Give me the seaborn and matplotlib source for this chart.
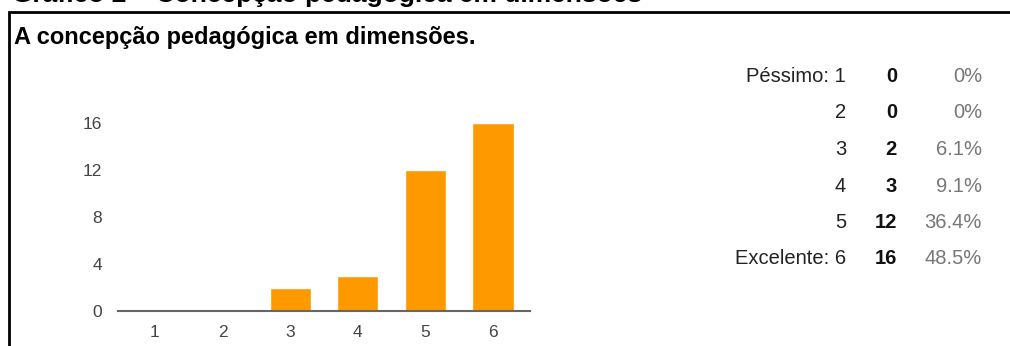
import matplotlib
matplotlib.use("Agg")
import matplotlib.pyplot as plt
import seaborn as sns
import pandas as pd
from matplotlib.patches import Rectangle

# ---- data ----
categories = ["1", "2", "3", "4", "5", "6"]
counts = [0, 0, 2, 3, 12, 16]
row_labels = ["Péssimo: 1", "2", "3", "4", "5", "Excelente: 6"]
percents = ["0%", "0%", "6.1%", "9.1%", "36.4%", "48.5%"]
yticks = [0, 4, 8, 12, 16]
title = "A concepção pedagógica em dimensões."
caption = "Gráfico 2 – Concepção pedagógica em dimensões"

sns.set_theme(style="white")
plt.rcParams["font.family"] = ["Liberation Sans", "DejaVu Sans"]

W, H = 1010, 346
fig = plt.figure(figsize=(W / 100, H / 100), dpi=100)
fig.patch.set_facecolor("white")

def fx(x):
    return x / W

def fy(y):
    return 1 - y / H

# frame box (extends beyond right and bottom edges)
fig.patches.append(Rectangle((fx(9), fy(400)), fx(1100), (400 - 12) / H,
                             transform=fig.transFigure, fill=False,
                             edgecolor="black", linewidth=2, zorder=5))

# cropped caption at top
fig.text(fx(12), fy(2), caption, fontsize=19, fontweight="bold",
         ha="left", va="baseline", color="black")

# title
fig.text(fx(14), fy(44), title, fontsize=17, fontweight="bold",
         ha="left", va="baseline", color="black")

# axes
left, right, top, bottom = 118, 530, 123, 311
ax = fig.add_axes([fx(left), fy(bottom), (right - left) / W, (bottom - top) / H])
df = pd.DataFrame({"cat": categories, "count": counts})
sns.barplot(data=df, x="cat", y="count", color="#FF9900", saturation=1,
            width=0.61, ax=ax)
ax.set_xlim(-0.547, 5.547)
ax.set_ylim(0, 16)
ax.set_yticks(yticks)
ax.set_yticklabels([str(t) for t in yticks])
ax.set_xlabel("")
ax.set_ylabel("")
for s in ["top", "right", "left"]:
    ax.spines[s].set_visible(False)
ax.spines["bottom"].set_color("#666666")
ax.spines["bottom"].set_linewidth(1.5)
ax.tick_params(axis="both", length=0, labelsize=12.5, colors="#444444")
ax.tick_params(axis="y", pad=11.5)
ax.tick_params(axis="x", pad=10)
ax.set_facecolor("none")
for b in ax.patches:
    b.set_clip_on(False)

# right-side table
row_y = [77, 113, 150, 186, 222, 258]
for lab, c, p, y in zip(row_labels, counts, percents, row_y):
    fig.text(fx(846), fy(y), lab, fontsize=14.5, ha="right", va="center",
             color="#222222")
    fig.text(fx(897), fy(y), str(c), fontsize=14.5, fontweight="bold",
             ha="right", va="center", color="#111111")
    fig.text(fx(982), fy(y), p, fontsize=14.5, ha="right", va="center",
             color="#777777")

fig.savefig("out.png", dpi=100, facecolor="white")
